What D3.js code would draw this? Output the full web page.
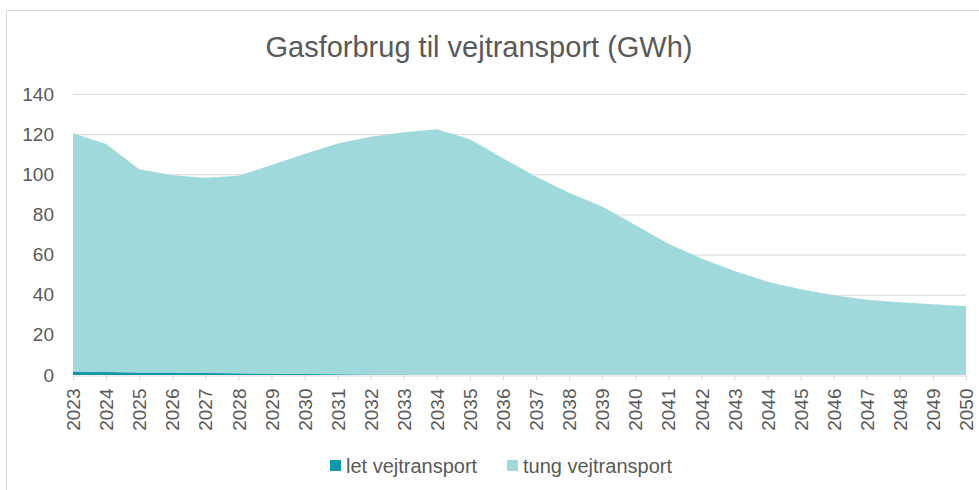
<!DOCTYPE html>
<html lang="da">
<head>
    <meta charset="UTF-8">
    <script src="https://d3js.org/d3.v7.min.js"></script>
    <title>Gasforbrug til vejtransport</title>
    <style>
        body { margin: 0; background: #fff; }
        text { font-family: "Liberation Sans", Arial, sans-serif; fill: #595959; }
    </style>
</head>
<body>
    <div id="chart"></div>
    <script>
        const years = d3.range(2023, 2051).map(String);
        const yTicks = [0, 20, 40, 60, 80, 100, 120, 140];
        const seriesNames = ["let vejtransport", "tung vejtransport"];
        const seriesColors = ["#0e97a4", "#9fd9dc"];
        // let vejtransport (GWh)
        const letValues = [1.7, 1.5, 1.3, 1.2, 1.0, 0.9, 0.7, 0.5, 0.4, 0.3, 0.2, 0.1, 0, 0,
            0, 0, 0, 0, 0, 0, 0, 0, 0, 0, 0, 0, 0, 0];
        // tung vejtransport (GWh)
        const tungValues = [118.8, 113.6, 101.2, 98.3, 97.3, 98.4, 103.9, 109.6, 115.0, 118.4,
            120.7, 122.3, 117.4, 108.0, 98.8, 90.8, 83.9, 74.7, 65.4, 58.1, 51.8, 46.5,
            42.7, 39.7, 37.5, 36.2, 35.2, 34.2];

        const width = 979, height = 490;
        const margin = { top: 94, right: 13, bottom: 115, left: 73 };

        const svg = d3.select("#chart").append("svg")
            .attr("width", width)
            .attr("height", height);

        // chart frame (only the visible top and left edges)
        svg.append("rect")
            .attr("x", 6.5).attr("y", 10.5)
            .attr("width", width + 20).attr("height", height + 20)
            .attr("fill", "none")
            .attr("stroke", "#d9d9d9");

        const table = years.map((y, i) => ({ year: y, let: letValues[i], tung: tungValues[i] }));
        const stack = d3.stack().keys(["let", "tung"]);
        const layers = stack(table);

        const x = d3.scalePoint()
            .domain(years)
            .range([margin.left, width - margin.right]);

        const y = d3.scaleLinear()
            .domain([0, 140])
            .range([height - margin.bottom, margin.top]);

        // gridlines
        svg.append("g")
            .selectAll("line")
            .data(yTicks.filter(t => t > 0))
            .enter()
            .append("line")
            .attr("x1", margin.left)
            .attr("x2", width - margin.right)
            .attr("y1", d => y(d) + 0.5)
            .attr("y2", d => y(d) + 0.5)
            .attr("stroke", "#d9d9d9")
            .attr("stroke-width", 1);

        const area = d3.area()
            .x(d => x(d.data.year))
            .y0(d => y(d[0]))
            .y1(d => y(d[1]));

        svg.append("g")
            .selectAll("path")
            .data(layers)
            .enter()
            .append("path")
            .attr("d", area)
            .attr("fill", (d, i) => seriesColors[i]);

        // x axis
        const xAxis = svg.append("g")
            .attr("transform", `translate(0,${y(0) + 0.5})`)
            .call(d3.axisBottom(x).tickSize(5).tickSizeOuter(0));
        xAxis.select(".domain").attr("stroke", "#d9d9d9");
        xAxis.selectAll(".tick line").attr("stroke", "#d9d9d9");
        xAxis.selectAll("text")
            .attr("transform", "rotate(-90)")
            .attr("x", -13)
            .attr("y", 0)
            .attr("dy", "0.35em")
            .style("text-anchor", "end")
            .style("font-size", "19px")
            .attr("fill", "#595959")
            .attr("font-family", null);

        // y axis
        const yAxis = svg.append("g")
            .attr("transform", `translate(${margin.left},0)`)
            .call(d3.axisLeft(y).tickValues(yTicks).tickSize(0).tickPadding(19));
        yAxis.select(".domain").remove();
        yAxis.selectAll("text")
            .style("font-size", "19px")
            .attr("fill", "#595959")
            .attr("font-family", null);

        // title
        svg.append("text")
            .attr("x", 479)
            .attr("y", 57)
            .attr("text-anchor", "middle")
            .style("font-size", "29px")
            .text("Gasforbrug til vejtransport (GWh)");

        // legend
        const legendX = [330, 507];
        const legend = svg.append("g")
            .selectAll("g")
            .data(seriesNames)
            .enter()
            .append("g")
            .attr("transform", (d, i) => `translate(${legendX[i]},460)`);
        legend.append("rect")
            .attr("width", 11)
            .attr("height", 11)
            .attr("fill", (d, i) => seriesColors[i]);
        legend.append("text")
            .attr("x", 16)
            .attr("y", 12.5)
            .style("font-size", "20px")
            .text(d => d);
    </script>
</body>
</html>
